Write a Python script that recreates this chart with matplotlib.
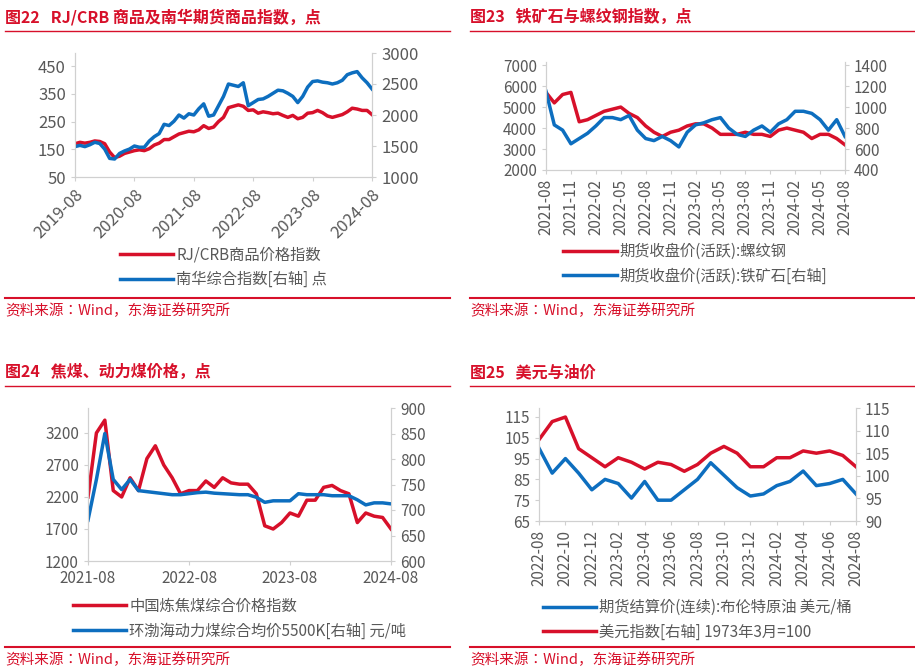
import matplotlib.pyplot as plt
import numpy as np

plt.rcParams['font.family'] = 'sans-serif'
plt.rcParams['font.sans-serif'] = ['Noto Sans CJK JP', 'Noto Sans CJK SC', 'DejaVu Sans']

RED = '#d7102a'
BLUE = '#0d6ebf'
GREY = '#595959'

# 图22 monthly 2019-08 .. 2024-08
crb = [170, 175, 172, 175, 180, 178, 170, 140, 120, 125, 135, 140, 145, 148, 145, 152, 165,
       172, 185, 185, 195, 205, 210, 215, 213, 220, 235, 225, 230, 250, 265, 300, 305, 310,
       305, 290, 292, 280, 285, 282, 278, 280, 272, 265, 272, 260, 265, 280, 282, 290, 282,
       270, 265, 270, 275, 285, 298, 295, 290, 290, 275]
nanhua = [1490, 1510, 1490, 1520, 1560, 1540, 1450, 1300, 1290, 1380, 1420, 1450, 1500, 1480,
          1480, 1580, 1650, 1700, 1850, 1830, 1900, 2000, 1950, 2020, 2000, 2100, 2180, 1980,
          2000, 2150, 2300, 2500, 2480, 2460, 2520, 2150, 2200, 2250, 2260, 2300, 2350, 2400,
          2390, 2350, 2300, 2200, 2300, 2450, 2540, 2550, 2530, 2520, 2500, 2520, 2560, 2650,
          2680, 2700, 2600, 2520, 2420]
labels22 = ['2019-08', '2020-08', '2021-08', '2022-08', '2023-08', '2024-08']

# 图23 monthly 2021-08 .. 2024-08
rebar = [5700, 5200, 5600, 5700, 4300, 4400, 4600, 4800, 4900, 5000, 4700, 4500, 4100, 3800,
         3600, 3800, 3900, 4100, 4200, 4200, 4000, 3700, 3700, 3700, 3800, 3700, 3700, 3600,
         3900, 4000, 3900, 3800, 3500, 3700, 3700, 3500, 3200]
ore = [1150, 830, 780, 650, 700, 750, 820, 900, 900, 880, 920, 780, 700, 680, 720, 680, 620,
       760, 830, 850, 880, 900, 800, 740, 720, 780, 820, 760, 840, 880, 960, 960, 940, 880,
       780, 880, 720]
labels23 = ['2021-08', '2021-11', '2022-02', '2022-05', '2022-08', '2022-11', '2023-02',
            '2023-05', '2023-08', '2023-11', '2024-02', '2024-05', '2024-08']

# 图24 monthly 2021-08 .. 2024-08
coking = [2200, 3200, 3400, 2300, 2200, 2500, 2300, 2800, 3000, 2700, 2500, 2250, 2300, 2300,
          2450, 2350, 2500, 2420, 2400, 2400, 2250, 1750, 1700, 1800, 1950, 1900, 2150, 2150,
          2350, 2380, 2300, 2250, 1800, 1950, 1900, 1880, 1700]
thermal = [680, 760, 850, 760, 740, 760, 738, 736, 734, 732, 730, 730, 732, 734, 735, 733,
           732, 731, 730, 730, 725, 715, 718, 718, 718, 732, 730, 730, 730, 728, 728, 728,
           720, 710, 714, 714, 712]
labels24 = ['2021-08', '2022-08', '2023-08', '2024-08']

# 图25 monthly 2022-08 .. 2024-08
brent = [100, 88, 95, 88, 80, 85, 83, 76, 84, 75, 75, 80, 85, 93, 87, 81, 77, 78, 82, 84, 89,
         82, 83, 85, 78]
dxy = [108, 112, 113, 106, 104, 102, 104, 103, 101.5, 103, 102.5, 101, 102.5, 105, 106.5, 105,
       102, 102, 104, 104, 105.5, 105, 105.5, 104.5, 102]
labels25 = ['2022-08', '2022-10', '2022-12', '2023-02', '2023-04', '2023-06', '2023-08',
            '2023-10', '2023-12', '2024-02', '2024-04', '2024-06', '2024-08']

W, H = 915, 672
fig = plt.figure(figsize=(W / 100, H / 100), dpi=100)


def px(x0, y0, x1, y1):
    return [x0 / W, 1 - y1 / H, (x1 - x0) / W, (y1 - y0) / H]


def header(x0, x1, ytitle, yline, num, text, ysrc, ysrcline):
    fig.text(x0 / W, 1 - ytitle / H, '图' + num + '   ' + text, color=RED, fontsize=11.5,
             fontweight='bold', va='center')
    fig.add_artist(plt.Line2D([x0 / W, x1 / W], [1 - yline / H] * 2, color=RED, lw=1))
    fig.add_artist(plt.Line2D([x0 / W, x1 / W], [1 - ysrcline / H] * 2, color=RED, lw=1.5))
    fig.text(x0 / W, 1 - ysrc / H, '资料来源：Wind，东海证券研究所', color=RED, fontsize=10.5,
             va='center')


def panel(rect, left, right, labels, step, llim, rlim, lticks, rticks, names, colors,
          rot, leg_y, fs=11):
    ax = fig.add_axes(rect)
    ax2 = ax.twinx()
    x = np.arange(len(left))
    l1, = ax.plot(x, left, color=colors[0], lw=2.5)
    l2, = ax2.plot(x, right, color=colors[1], lw=2.5)
    ax.set_xlim(0, len(left) - 1)
    ax.set_ylim(*llim)
    ax2.set_ylim(*rlim)
    ax.set_yticks(lticks)
    ax2.set_yticks(rticks)
    ax.set_xticks(np.arange(0, len(left), step))
    ax.set_xticklabels(labels, rotation=rot, ha='right' if rot == 45 else 'center',
                       rotation_mode='anchor' if rot == 45 else 'default')
    for a in (ax, ax2):
        for s in a.spines.values():
            s.set_color('#d0d0d0')
        a.spines['top'].set_visible(False)
        a.tick_params(colors=GREY, labelsize=fs, length=3, color='#d0d0d0')
    ax.legend([l1, l2], names, loc='upper center', bbox_to_anchor=(0.5, leg_y),
              frameon=False, fontsize=11, labelcolor=GREY, handlelength=3.5,
              handletextpad=0.2, labelspacing=0.5)
    return ax


header(5, 450, 17, 31, '22', 'RJ/CRB 商品及南华期货商品指数，点', 311, 298)
header(470, 915, 17, 31, '23', '铁矿石与螺纹钢指数，点', 311, 298)
header(5, 450, 372, 386, '24', '焦煤、动力煤价格，点', 660, 647)
header(470, 915, 372, 386, '25', '美元与油价', 660, 647)

panel(px(75, 53, 372, 177), crb, nanhua, labels22, 12, (50, 497), (1000, 3000),
      [50, 150, 250, 350, 450], [1000, 1500, 2000, 2500, 3000],
      ['RJ/CRB商品价格指数', '南华综合指数[右轴] 点'], [RED, BLUE], 45, -0.45, fs=12)
panel(px(546, 62, 845, 170), rebar, ore, labels23, 3, (2000, 7150), (400, 1430),
      [2000, 3000, 4000, 5000, 6000, 7000], [400, 600, 800, 1000, 1200, 1400],
      ['期货收盘价(活跃):螺纹钢', '期货收盘价(活跃):铁矿石[右轴]'], [RED, BLUE], 90, -0.55)
panel(px(88, 408, 391, 561), coking, thermal, labels24, 12, (1200, 3590), (600, 900),
      [1200, 1700, 2200, 2700, 3200], [600, 650, 700, 750, 800, 850, 900],
      ['中国炼焦煤综合价格指数', '环渤海动力煤综合均价5500K[右轴] 元/吨'], [RED, BLUE], 0, -0.15)
panel(px(539, 408, 856, 521), brent, dxy, labels25, 2, (65, 119.3), (90, 115),
      [65, 75, 85, 95, 105, 115], [90, 95, 100, 105, 110, 115],
      ['期货结算价(连续):布伦特原油 美元/桶', '美元指数[右轴] 1973年3月=100'], [BLUE, RED], 90, -0.57)

fig.savefig('out.png', dpi=100)
